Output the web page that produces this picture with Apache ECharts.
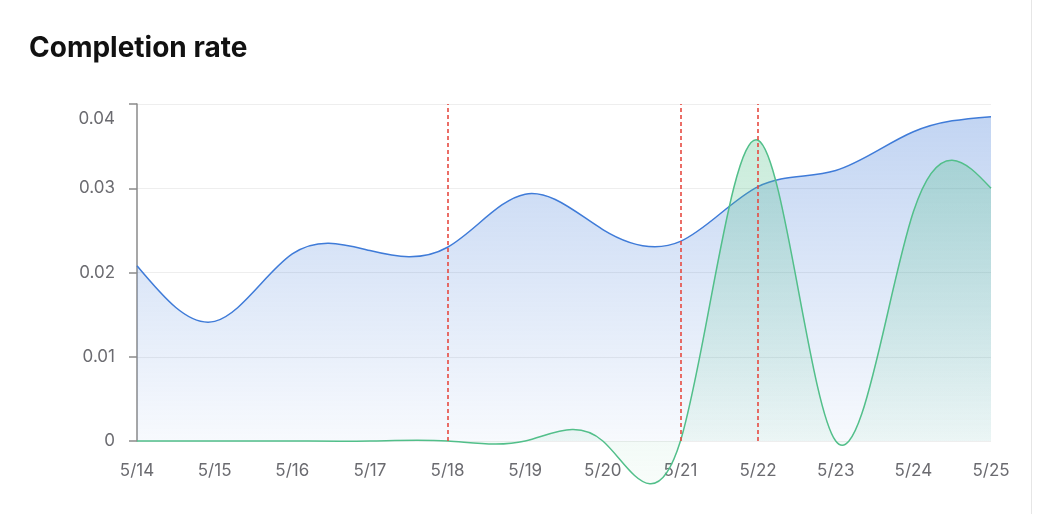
<!DOCTYPE html>
<html>
<head>
<meta charset="utf-8">
<title>Completion rate</title>
<script src="https://cdn.jsdelivr.net/npm/echarts@6/dist/echarts.min.js"></script>
<style>
  html, body { margin: 0; padding: 0; background: #fff; }
  #wrap { position: relative; width: 1048px; height: 514px; }
  #chart { width: 1048px; height: 514px; }
  #edge { position: absolute; left: 1031px; top: 0; width: 1px; height: 514px; background: #e6e6e6; }
</style>
</head>
<body>
<div id="wrap">
  <div id="chart"></div>
  <div id="edge"></div>
</div>
<script>
// dates on the x axis
var days = ['5/14', '5/15', '5/16', '5/17', '5/18', '5/19', '5/20', '5/21', '5/22', '5/23', '5/24', '5/25']
// blue series
var rateA = [0.0208, 0.0142, 0.0222, 0.0226, 0.0230, 0.0293, 0.0251, 0.0237, 0.0302, 0.0321, 0.0367, 0.0385]
// green series
var rateB = [0, 0, 0, 0, 0, 0, 0, 0, 0.0357, 0, 0.0272, 0.0300]
// dashed markers
var markDays = ['5/18', '5/21', '5/22']
var yTicks = { min: 0, max: 0.04, step: 0.01 }

var FONT = 'Inter, "Noto Sans", sans-serif'
var chart = echarts.init(document.getElementById('chart'))

function grad(r, g, b, a0, a1) {
  return new echarts.graphic.LinearGradient(0, 0, 0, 1, [
    { offset: 0, color: 'rgba(' + r + ',' + g + ',' + b + ',' + a0 + ')' },
    { offset: 1, color: 'rgba(' + r + ',' + g + ',' + b + ',' + a1 + ')' }
  ])
}

// natural cubic spline control points (same as d3 curveNatural)
function ctrl(x) {
  var n = x.length - 1, m, i
  var a = new Array(n), b = new Array(n), r = new Array(n)
  a[0] = 0; b[0] = 2; r[0] = x[0] + 2 * x[1]
  for (i = 1; i < n - 1; ++i) { a[i] = 1; b[i] = 4; r[i] = 4 * x[i] + 2 * x[i + 1] }
  a[n - 1] = 2; b[n - 1] = 7; r[n - 1] = 8 * x[n - 1] + x[n]
  for (i = 1; i < n; ++i) { m = a[i] / b[i - 1]; b[i] -= m; r[i] -= m * r[i - 1] }
  a[n - 1] = r[n - 1] / b[n - 1]
  for (i = n - 2; i >= 0; --i) a[i] = (r[i] - a[i + 1]) / b[i]
  b[n - 1] = (x[n] + a[n - 1]) / 2
  for (i = 0; i < n - 1; ++i) b[i] = 2 * x[i + 1] - a[i + 1]
  return [a, b]
}

function splineSeries(values, line, fill, z) {
  return {
    type: 'custom',
    data: values.map(function (v, i) { return [i, v] }),
    encode: { x: 0, y: 1 },
    silent: true,
    clip: false,
    z: z,
    renderItem: function (params, api) {
      if (params.dataIndex !== 0) return null
      var pts = values.map(function (v, i) { return api.coord([i, v]) })
      var xs = pts.map(function (p) { return p[0] })
      var ys = pts.map(function (p) { return p[1] })
      var cx = ctrl(xs), cy = ctrl(ys)
      var d = 'M' + xs[0] + ',' + ys[0]
      for (var i = 0; i < xs.length - 1; i++) {
        d += 'C' + cx[0][i] + ',' + cy[0][i] + ',' + cx[1][i] + ',' + cy[1][i] + ',' + xs[i + 1] + ',' + ys[i + 1]
      }
      var base = api.coord([0, 0])[1]
      var area = d + 'L' + xs[xs.length - 1] + ',' + base + 'L' + xs[0] + ',' + base + 'Z'
      return {
        type: 'group',
        children: [
          { type: 'path', shape: { pathData: area }, style: { fill: fill, stroke: null } },
          { type: 'path', shape: { pathData: d }, style: { fill: null, stroke: line, lineWidth: 1.5 } }
        ]
      }
    }
  }
}

chart.setOption({
  animation: false,
  textStyle: { fontFamily: FONT },
  title: {
    text: 'Completion rate',
    left: 24,
    top: 30,
    textStyle: { fontSize: 28, fontWeight: 'bold', color: '#111', fontFamily: FONT }
  },
  grid: { left: 137, right: 57, top: 104, bottom: 73 },
  xAxis: {
    type: 'category',
    data: days,
    boundaryGap: false,
    axisLine: { show: false },
    axisTick: { show: false },
    axisLabel: { color: '#6b6b70', fontSize: 17, margin: 21 }
  },
  yAxis: {
    type: 'value',
    min: yTicks.min,
    max: yTicks.max,
    interval: yTicks.step,
    axisLine: { show: true, lineStyle: { color: '#8a8a8a', width: 1.5 } },
    axisTick: { show: true, length: 8, lineStyle: { color: '#8a8a8a', width: 1.5 } },
    splitLine: { lineStyle: { color: '#eeeeee', width: 1 } },
    axisLabel: {
      color: '#6b6b70',
      fontSize: 17,
      margin: 22,
      formatter: function (v) {
        if (Math.abs(v - yTicks.max) < 1e-9) return '{top|' + v + '}'
        return String(v)
      },
      rich: { top: { color: '#6b6b70', fontSize: 17, padding: [30, 0, 0, 0] } }
    }
  },
  series: [
    splineSeries(rateA, '#3f7bd8', grad(58, 118, 214, 0.31, 0.04), 2),
    splineSeries(rateB, '#52bf8a', grad(82, 192, 138, 0.31, 0.04), 3),
    {
      type: 'line',
      data: rateB,
      symbol: 'none',
      silent: true,
      lineStyle: { width: 0, opacity: 0 },
      z: 4,
      markLine: {
        silent: true,
        symbol: 'none',
        label: { show: false },
        lineStyle: { color: '#e64a41', type: [4, 3], width: 1.6 },
        data: markDays.map(function (d) { return { xAxis: d } })
      }
    }
  ]
})
</script>
</body>
</html>
